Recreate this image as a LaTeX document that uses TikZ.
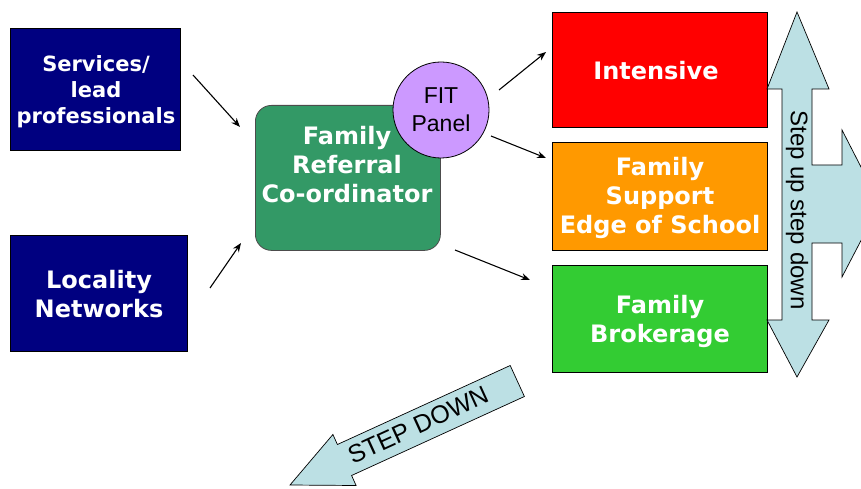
\documentclass[tikz,border=0pt]{standalone}
\usepackage{fontspec}
\setmainfont{Liberation Sans}
\newfontfamily\boxfont{DejaVu Sans}
\usetikzlibrary{arrows.meta}
\definecolor{navyc}{RGB}{0,0,128}
\definecolor{frcg}{RGB}{51,153,102}
\definecolor{fitp}{RGB}{204,153,255}
\definecolor{intr}{RGB}{255,0,0}
\definecolor{supo}{RGB}{255,153,0}
\definecolor{brog}{RGB}{51,204,51}
\definecolor{arrb}{RGB}{188,224,228}
\begin{document}
\begin{tikzpicture}[x=1pt,y=-1pt,
  boxtxt/.style={text=white,font=\boxfont\bfseries\fontsize{24}{29}\selectfont,align=center,inner sep=0pt},
  conn/.style={line width=1.1pt,-{Stealth[length=9pt,width=7pt]}},
  bigarrow/.style={fill=arrb,draw=black,line width=0.7pt}]
\useasboundingbox (0,0) rectangle (861,489);
\clip (0,0) rectangle (861,489);
% left boxes
\node[fill=navyc,draw=black,line width=0.8pt,minimum width=170pt,minimum height=122pt,anchor=north west,inner sep=0pt] (servbox) at (10,28) {};
\node[boxtxt,font=\boxfont\bfseries\fontsize{21}{26}\selectfont] (serv) at (96,92) {Services/\\lead\\professionals};
\node[fill=navyc,draw=black,line width=0.8pt,minimum width=177pt,minimum height=116pt,anchor=north west,inner sep=0pt] (locbox) at (10,235) {};
\node[boxtxt] (loc) at (99,294) {Locality\\Networks};
% coordinator
\node[fill=frcg,draw=black!70,line width=0.8pt,rounded corners=16pt,minimum width=185pt,minimum height=145pt,anchor=north west,inner sep=0pt] (frcbox) at (255,105) {};
\node[boxtxt] (frc) at (347,165) {Family\\Referral\\Co-ordinator};
% FIT panel
\node[circle,fill=fitp,draw=black,line width=0.8pt,minimum size=96pt,inner sep=0pt,font=\fontsize{23}{28}\selectfont,align=center] (fit) at (441,110) {FIT\\Panel};
% right boxes
\node[fill=intr,draw=black,line width=0.8pt,minimum width=215pt,minimum height=115pt,anchor=north west,inner sep=0pt] (intbox) at (552,12) {};
\node[boxtxt] (int) at (656,71) {Intensive};
\node[fill=supo,draw=black,line width=0.8pt,minimum width=215pt,minimum height=108pt,anchor=north west,inner sep=0pt] (supbox) at (552,142) {};
\node[boxtxt] (sup) at (660,198) {Family\\Support\\Edge of School};
\node[fill=brog,draw=black,line width=0.8pt,minimum width=215pt,minimum height=107pt,anchor=north west,inner sep=0pt] (brobox) at (552,265) {};
\node[boxtxt] (bro) at (660,321) {Family\\Brokerage};
% connectors
\coordinate (a1s) at (193,75); \coordinate (a1e) at (240,127);
\coordinate (a2s) at (210,288); \coordinate (a2e) at (241,243);
\coordinate (a3s) at (499,90); \coordinate (a3e) at (546,52);
\coordinate (a4s) at (491,136); \coordinate (a4e) at (546,158);
\coordinate (a5s) at (455,250); \coordinate (a5e) at (530,280);
\draw[conn] (a1s) -- (a1e);
\draw[conn] (a2s) -- (a2e);
\draw[conn] (a3s) -- (a3e);
\draw[conn] (a4s) -- (a4e);
\draw[conn] (a5s) -- (a5e);
% step up step down arrow
\draw[bigarrow] (797,12) -- (829,89) -- (812,89) -- (812,165) -- (842,165) -- (842,130)
  -- (880,204) -- (842,277) -- (842,243) -- (812,243) -- (812,320) -- (829,320)
  -- (797,377) -- (767,320) -- (782,320) -- (782,89) -- (767,89) -- cycle;
\node[rotate=-90,font=\fontsize{24}{28}\selectfont,inner sep=0pt] (sus) at (797,210) {Step up step down};
% step down arrow
\draw[bigarrow] (290,485) -- (332.9,434.5) -- (337.4,444.5) -- (510.2,365.5) -- (524.4,396.5)
  -- (351.6,475.5) -- (356.1,485.5) -- cycle;
\node[rotate=24.6,font=\fontsize{25}{28}\selectfont,inner sep=0pt] (sd) at (418,425) {STEP DOWN};
\end{tikzpicture}
\end{document}
